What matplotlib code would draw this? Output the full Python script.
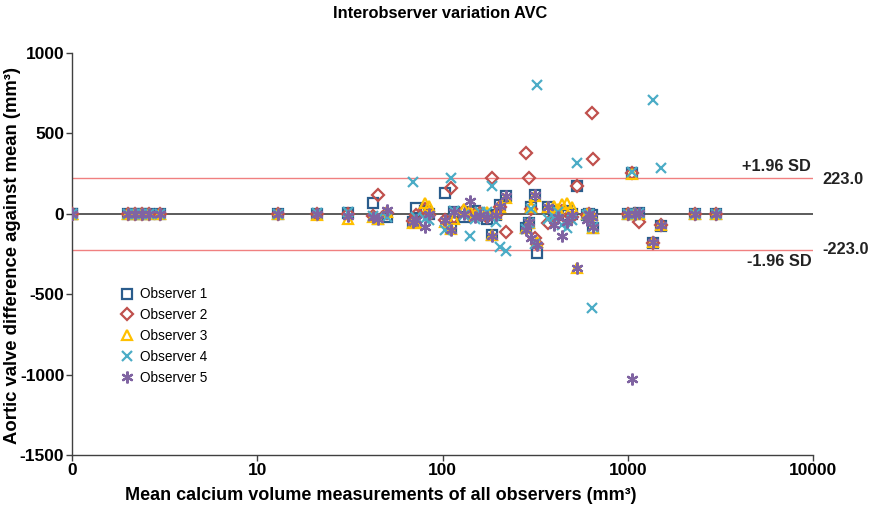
import numpy as np
import matplotlib.pyplot as plt
from matplotlib.ticker import FixedLocator, NullLocator

plt.rcParams['font.family'] = ['Liberation Sans', 'DejaVu Sans']
plt.rcParams['axes.unicode_minus'] = False

# mean calcium volume of all observers per scan (mm3)
mean_vol = [0, 0, 2.0, 2.2, 2.4, 2.6, 3.0, 13, 21, 31, 42, 45, 50, 69, 72, 80, 85,
            103, 111, 115, 130, 140, 150, 160, 173, 184, 195, 205, 220, 282, 292,
            300, 322, 315, 370, 400, 420, 440, 470, 500, 530, 600, 620, 640, 650,
            1000, 1050, 1100, 1150, 1365, 1513, 2300, 3000]

# difference of each observer against the mean (mm3)
obs1 = [0, 0, 0, 0, 0, 0, 0, 0, 0, 8, 67, -30, -20, -50, 35, 20, 0,
        130, -90, 10, -20, 10, 20, -10, -30, -131, -10, 55, 110, -88, -55,
        40, -245, 117, 45, 20, 0, -10, 20, 0, 173, -5, 0, -10, -88,
        0, 255, 0, 5, -180, -75, 0, 0]
obs2 = [0, 0, 0, 0, 0, 0, 0, 0, 0, 0, -15, 116, 5, -45, -10, 30, -10,
        -40, 160, -20, 20, -10, 0, 5, -20, 222, -10, 40, -113, 378, 222,
        30, -190, -150, -60, -40, -10, 20, -30, -20, 173, -10, 0, 627, 340,
        0, 255, 0, -50, -180, -70, 0, 0]
obs3 = [0, 0, 0, 0, 0, 0, 0, 0, -5, -30, -20, -30, 10, -55, -60, 67, 50,
        -50, -95, -30, 30, 20, -10, 0, 10, -130, 0, 40, 100, -90, -55,
        40, -175, 110, 40, 50, 30, 60, 70, 40, -337, 0, 0, -10, -90,
        0, 250, 0, 0, -175, -70, 0, 0]
obs4 = [0, 0, 0, 0, 0, 0, 0, 0, 5, 10, -12, -25, -20, 198, -20, -30, -40,
        -100, 222, 20, -10, -140, -30, 10, 10, 173, -50, -205, -230, -95, -60,
        30, 800, -190, -30, -20, 10, -70, -90, -40, 315, -5, 0, -585, -80,
        0, 260, 0, 5, 707, 285, 0, 0]
obs5 = [0, 0, 0, 0, 0, 0, 0, 0, 0, -15, -20, -30, 25, -48, -40, -82, 0,
        -40, -100, 10, 0, 80, -20, -10, -20, -135, -10, 50, 110, -100, -50,
        -150, -195, 115, 45, -70, -20, -140, -50, -10, -337, -40, 0, -20, -85,
        0, -1027, 0, 5, -175, -72, 0, 0]

sd_limit = 223.0

observers = ["Observer 1", "Observer 2", "Observer 3", "Observer 4", "Observer 5"]
diffs = [obs1, obs2, obs3, obs4, obs5]
colors = ["#2A5C8C", "#C0504D", "#FFC000", "#4BACC6", "#8064A2"]
markers = ["s", "D", "^", "x", (6, 2, 0)]
sizes = [7, 6, 7.5, 7.5, 8.5]

fig = plt.figure(figsize=(8.73, 5.11), dpi=100)
ax = fig.add_axes([72/873, 56/511, 741/873, 402/511])

x = np.clip(np.array(mean_vol, dtype=float), 1, None)

ax.plot([1, 10000], [0, 0], color="#404040", lw=1.2, zorder=1)
ax.plot([1, 10000], [sd_limit, sd_limit], color="#F08080", lw=1.0, zorder=1)
ax.plot([1, 10000], [-sd_limit, -sd_limit], color="#F08080", lw=1.0, zorder=1)

for name, d, c, m, s in zip(observers, diffs, colors, markers, sizes):
    ax.plot(x, d, linestyle="none", marker=m, markersize=s, markerfacecolor="none",
            markeredgecolor=c, markeredgewidth=1.6, color=c, label=name, zorder=3)

ax.set_xscale("log")
ax.set_xlim(1, 10000)
ax.set_ylim(-1500, 1000)
ax.xaxis.set_major_locator(FixedLocator([1, 10, 100, 1000, 10000]))
ax.xaxis.set_minor_locator(NullLocator())
ax.set_xticklabels(["0", "10", "100", "1000", "10000"])
ax.set_yticks([-1500, -1000, -500, 0, 500, 1000])

for sp in ["top", "right"]:
    ax.spines[sp].set_visible(False)
for sp in ["left", "bottom"]:
    ax.spines[sp].set_color("#404040")
    ax.spines[sp].set_linewidth(1.0)
ax.tick_params(axis="both", direction="out", length=4, width=1, color="#404040",
               labelsize=12.5, pad=1.5)
for lab in ax.get_xticklabels() + ax.get_yticklabels():
    lab.set_fontweight("bold")

# SD labels
ax.text(9800, sd_limit + 25, "+1.96 SD", ha="right", va="bottom", fontsize=11.8,
        fontweight="bold", color="#222222")
ax.text(9800, -sd_limit - 30, "-1.96 SD", ha="right", va="top", fontsize=11.8,
        fontweight="bold", color="#222222")
ax.text(11200, sd_limit - 7, "223.0", ha="left", va="center", fontsize=11.8,
        fontweight="bold", color="#222222", clip_on=False)
ax.text(11200, -sd_limit + 4, "-223.0", ha="left", va="center", fontsize=11.8,
        fontweight="bold", color="#222222", clip_on=False)

fig.text(440/873, 1 - 13/511, "Interobserver variation AVC", ha="center", va="center",
         fontsize=11.8, fontweight="bold")
fig.text(381/873, 1 - 496/511, "Mean calcium volume measurements of all observers (mm³)",
         ha="center", va="center", fontsize=13, fontweight="bold")
fig.text(13/873, 1 - 255/511, "Aortic valve difference against mean (mm³)",
         ha="center", va="center", rotation=90, fontsize=13.3, fontweight="bold")

leg = ax.legend(loc="upper left", bbox_to_anchor=(116/873, 1 - 282/511),
                bbox_transform=fig.transFigure, frameon=False, fontsize=9.8,
                handlelength=0.8, handletextpad=0.6, labelspacing=0.5,
                borderaxespad=0)

fig.savefig("out.png", dpi=100)
